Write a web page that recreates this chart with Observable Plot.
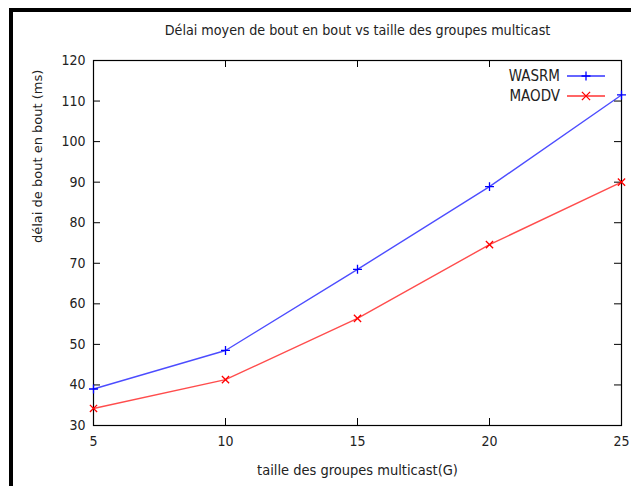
<!DOCTYPE html>
<html>
<head>
<meta charset="utf-8">
<script src="https://cdn.jsdelivr.net/npm/d3@7"></script>
<script src="https://cdn.jsdelivr.net/npm/@observablehq/plot@0.6"></script>
<style>
  html, body { margin: 0; padding: 0; background: #fff; overflow: hidden; }
  #wrap { position: relative; width: 631px; height: 486px; }
  #border { position: absolute; left: 9px; top: 8px; width: 700px; height: 600px;
            border-left: 4px solid #000; border-top: 4px solid #000; pointer-events: none; }
</style>
</head>
<body>
<div id="wrap"><div id="border"></div></div>
<script>
const groupSizes = [5, 10, 15, 20, 25];
const wasrm = [39.0, 48.5, 68.5, 88.9, 111.5];
const maodv = [34.2, 41.3, 56.4, 74.6, 90.0];
const seriesNames = ["WASRM", "MAODV"];
const seriesColors = ["#0000ff", "#ff0000"];
const seriesSymbols = ["plus", "times"];
const xTicks = [5, 10, 15, 20, 25];
const yTicks = [30, 40, 50, 60, 70, 80, 90, 100, 110, 120];
const title = "Délai moyen de bout en bout vs taille des groupes multicast";
const xLabel = "taille des groupes multicast(G)";
const yLabel = "délai de bout en bout (ms)";

const data = [];
groupSizes.forEach((g, i) => {
  data.push({g, v: wasrm[i], s: seriesNames[0]});
  data.push({g, v: maodv[i], s: seriesNames[1]});
});

const W = 631, H = 486;
const mL = 93, mR = 10, mT = 60, mB = 61;
const pw = W - mL - mR, ph = H - mT - mB;
const tick = 7;
const condensed = "'DejaVu Sans Condensed', 'DejaVu Sans', sans-serif";
const rPlus = 3.0, rTimes = 3.8;

const chart = Plot.plot({
  width: W, height: H,
  marginLeft: mL, marginRight: mR, marginTop: mT, marginBottom: mB,
  style: {fontFamily: condensed, background: "#fff", color: "#222"},
  x: {domain: [5, 25]},
  y: {domain: [30, 120]},
  color: {domain: seriesNames, range: seriesColors},
  symbol: {domain: seriesNames, range: seriesSymbols},
  marks: [
    Plot.tickY(yTicks, {y: d => d, stroke: "#000", insetRight: pw - tick}),
    Plot.tickY(yTicks, {y: d => d, stroke: "#000", insetLeft: pw - tick}),
    Plot.tickX(xTicks, {x: d => d, stroke: "#000", insetTop: ph - tick}),
    Plot.tickX(xTicks, {x: d => d, stroke: "#000", insetBottom: ph - tick}),
    Plot.frame({stroke: "#000", strokeWidth: 1.2}),
    Plot.axisY({ticks: yTicks, tickSize: 0, tickPadding: 8, fontSize: 14, label: null, fill: "#222"}),
    Plot.axisX({ticks: xTicks, tickSize: 0, tickPadding: 11, fontSize: 14, label: null, fill: "#222"}),
    Plot.line(data, {x: "g", y: "v", z: "s", stroke: "s", strokeWidth: 1.4, strokeOpacity: 0.7}),
    Plot.dot(data, {x: "g", y: "v", stroke: "s", symbol: "s", r: d => d.s === "WASRM" ? rPlus : rTimes, strokeWidth: 1.3}),
    Plot.text([title], {frameAnchor: "top", dy: -30, lineAnchor: "middle", fontSize: 14.2, fill: "#222"}),
    Plot.text([xLabel], {frameAnchor: "bottom", dy: 45, lineAnchor: "middle", fontSize: 14.5, fill: "#222"}),
    Plot.text([yLabel], {frameAnchor: "left", dx: -56, rotate: -90, fontSize: 13, fill: "#222",
                         fontFamily: "'DejaVu Sans', sans-serif"})
  ]
});

// legend (inside top-right of the frame)
const svg = d3.select(chart);
const lg = svg.append("g").attr("font-family", condensed).attr("font-size", 15);
seriesNames.forEach((name, i) => {
  const y = mT + 16 + i * 20;
  const x0 = W - mR - 54, x1 = W - mR - 16, xc = (x0 + x1) / 2;
  lg.append("text").attr("x", W - mR - 61).attr("y", y).attr("dy", "0.32em")
    .attr("text-anchor", "end").attr("fill", "#222").text(name);
  lg.append("line").attr("x1", x0).attr("x2", x1).attr("y1", y).attr("y2", y)
    .attr("stroke", seriesColors[i]).attr("stroke-width", 1.4).attr("stroke-opacity", 0.8);
  const sym = i === 0 ? d3.symbolPlus : d3.symbolTimes;
  const r = i === 0 ? rPlus : rTimes;
  lg.append("path").attr("d", d3.symbol(sym, Math.PI * r * r)()).attr("transform", `translate(${xc},${y})`)
    .attr("fill", "none").attr("stroke", seriesColors[i]).attr("stroke-width", 1.3);
});

document.getElementById("wrap").prepend(chart);
</script>
</body>
</html>
